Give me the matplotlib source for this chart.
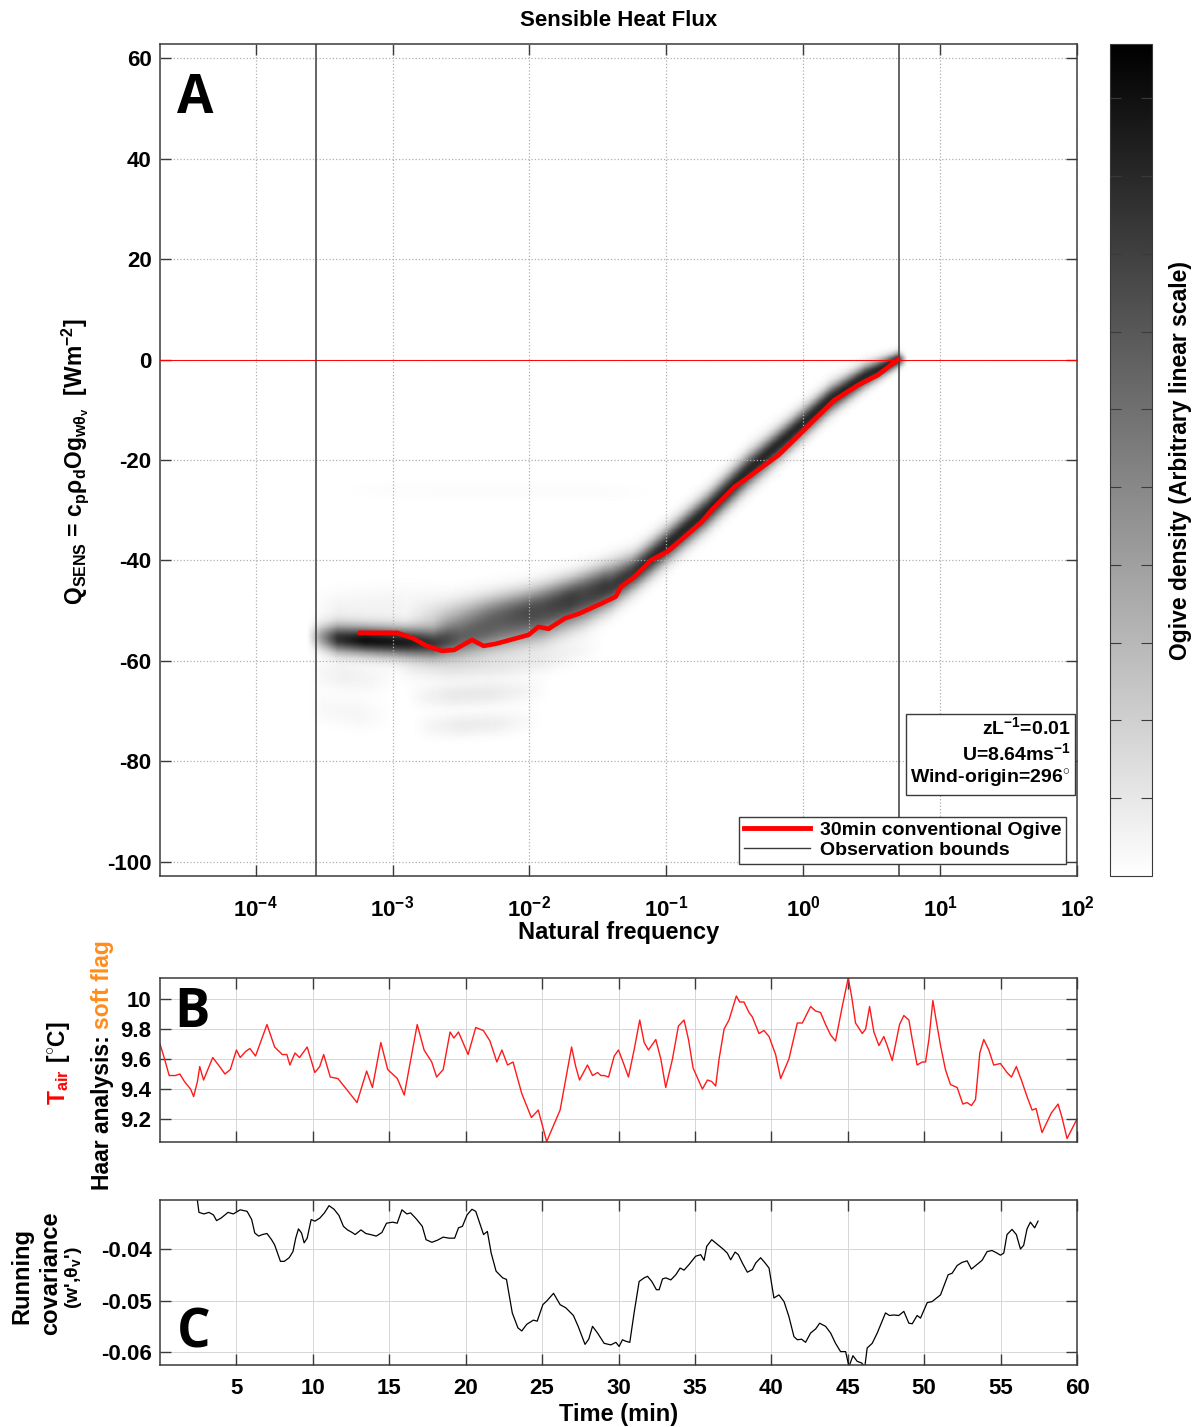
import numpy as np
import matplotlib
matplotlib.use('Agg')
import matplotlib.pyplot as plt
from matplotlib.lines import Line2D

plt.rcParams['font.family'] = ['Liberation Sans', 'DejaVu Sans']
plt.rcParams['font.weight'] = 'bold'
plt.rcParams['axes.unicode_minus'] = False
plt.rcParams['mathtext.fontset'] = 'custom'
plt.rcParams['mathtext.rm'] = 'Liberation Sans:bold'
plt.rcParams['mathtext.bf'] = 'Liberation Sans:bold'
plt.rcParams['mathtext.it'] = 'Liberation Sans:bold'
plt.rcParams['mathtext.sf'] = 'Liberation Sans:bold'
plt.rcParams['mathtext.default'] = 'bf'

# ---------------- data ----------------
# 30 min conventional ogive (log10 frequency, W m-2)
ogive_logf = [-3.235, -2.966, -2.85, -2.75, -2.638, -2.55, -2.42, -2.335, -2.25, -2.18,
              -2.006, -1.935, -1.86, -1.74, -1.64, -1.47, -1.37, -1.33, -1.23, -1.11,
              -0.99, -0.74, -0.67, -0.50, -0.43, -0.18, -0.015, 0.08, 0.226, 0.40, 0.545, 0.69]
ogive_q = [-54.4, -54.4, -55.5, -57.0, -58.0, -57.8, -55.8, -57.0, -56.6, -56.1,
           -54.8, -53.2, -53.6, -51.5, -50.6, -48.5, -47.2, -45.2, -43.2, -39.9,
           -38.2, -32.3, -30.0, -25.3, -24.0, -19.0, -14.6, -12.0, -8.1, -5.1, -3.1, 0.0]

# ogive density ridges: rows of (log10 f, centre Q, spread, weight)
ridge_main = [(-3.62, -55.0, 1.5, 0.0), (-3.52, -55.2, 1.7, 0.4), (-3.40, -55.5, 1.9, 0.85),
              (-3.20, -55.8, 1.9, 1.0), (-2.90, -56.2, 2.0, 0.95), (-2.70, -56.5, 2.1, 0.8),
              (-2.50, -55.5, 2.6, 0.6), (-2.20, -53.5, 3.0, 0.55), (-1.90, -51.5, 3.0, 0.6),
              (-1.60, -48.3, 2.8, 0.65), (-1.40, -45.5, 2.5, 0.75), (-1.20, -41.5, 2.3, 0.85),
              (-1.00, -37.0, 2.2, 0.9), (-0.70, -30.0, 2.2, 0.9), (-0.40, -22.0, 2.2, 0.9),
              (-0.10, -15.0, 2.0, 0.9), (0.20, -7.8, 1.8, 0.9), (0.45, -3.3, 1.5, 0.9),
              (0.69, 0.0, 1.0, 0.9), (0.76, 0.0, 0.6, 0.0)]
ridge_upper = [(-2.90, -52.0, 2.5, 0.0), (-2.60, -51.5, 2.6, 0.22), (-2.30, -50.0, 2.4, 0.33),
               (-2.00, -48.5, 2.3, 0.38), (-1.70, -46.0, 2.2, 0.38), (-1.45, -43.0, 2.0, 0.28),
               (-1.25, -40.0, 2.0, 0.0)]
ridge_haze = [(-3.60, -50.0, 2.5, 0.0), (-3.40, -50.0, 2.5, 0.05), (-3.00, -49.0, 2.5, 0.05),
              (-2.60, -48.0, 2.5, 0.0)]
ridge_low1 = [(-3.62, -62.5, 2.0, 0.0), (-3.50, -62.5, 2.0, 0.04), (-3.35, -63.0, 2.0, 0.06),
              (-3.15, -63.5, 2.0, 0.04), (-2.95, -63.0, 2.0, 0.0)]
ridge_low2 = [(-3.00, -61.5, 1.7, 0.0), (-2.85, -61.5, 1.7, 0.05), (-2.60, -61.5, 1.7, 0.08),
              (-2.20, -61.0, 1.7, 0.08), (-1.90, -59.8, 1.7, 0.07), (-1.65, -58.0, 1.7, 0.04),
              (-1.45, -57.0, 1.7, 0.0)]
ridge_low3 = [(-2.90, -67.0, 1.6, 0.0), (-2.75, -67.0, 1.6, 0.05), (-2.55, -66.8, 1.6, 0.09),
              (-2.30, -66.4, 1.6, 0.09), (-2.05, -66.0, 1.6, 0.05), (-1.85, -65.5, 1.6, 0.0)]
ridge_low4 = [(-2.85, -73.0, 1.5, 0.0), (-2.72, -73.0, 1.5, 0.04), (-2.50, -72.8, 1.5, 0.08),
              (-2.25, -72.4, 1.5, 0.07), (-2.05, -72.0, 1.5, 0.03), (-1.90, -71.5, 1.5, 0.0)]
ridge_low5 = [(-3.62, -69.0, 2.0, 0.0), (-3.50, -69.5, 2.0, 0.03), (-3.25, -70.5, 2.0, 0.04),
              (-3.00, -71.0, 2.0, 0.0)]
ridge_streak = [(-3.40, -26.0, 1.2, 0.0), (-3.00, -26.0, 1.2, 0.015), (-1.50, -26.3, 1.2, 0.015),
                (-1.00, -26.5, 1.2, 0.0)]
ridges = [ridge_main, ridge_upper, ridge_haze, ridge_low1, ridge_low2, ridge_low3,
          ridge_low4, ridge_low5, ridge_streak]

obs_bounds = [1 / 3600, 5.0]

# panel B: air temperature
time_b = [0.0, 0.3, 0.6, 1.0, 1.3, 1.6, 2.0, 2.2, 2.45, 2.6, 2.85, 3.45, 3.9, 4.25, 4.6, 5.0,
          5.25, 5.6, 5.88, 6.25, 7.0, 7.5, 8.0, 8.3, 8.5, 8.83, 9.13, 9.63, 10.13, 10.45, 10.71,
          11.14, 11.64, 12.27, 12.89, 13.52, 13.9, 14.45, 14.9, 15.53, 15.98, 16.83, 17.28,
          17.78, 18.1, 18.53, 18.98, 19.23, 19.53, 20.16, 20.66, 21.16, 21.59, 22.04, 22.37,
          22.74, 23.1, 23.67, 24.3, 24.75, 25.3, 26.18, 26.93, 27.2, 27.45, 27.97, 28.3, 28.63,
          28.85, 29.06, 29.35, 29.72, 30.0, 30.37, 30.65, 31.02, 31.39, 31.68, 31.96, 32.44,
          32.77, 33.09, 33.53, 33.92, 34.29, 34.58, 34.88, 35.23, 35.49, 35.82, 36.1, 36.36,
          36.58, 36.91, 37.23, 37.71, 37.93, 38.21, 38.54, 38.76, 39.19, 39.52, 39.85, 40.28,
          40.61, 41.15, 41.7, 42.03, 42.57, 42.9, 43.22, 43.55, 43.88, 44.2, 44.64, 45.03,
          45.25, 45.51, 45.95, 46.17, 46.43, 46.71, 47.04, 47.36, 47.58, 47.91, 48.39, 48.67,
          49.0, 49.22, 49.54, 49.87, 50.09, 50.31, 50.57, 50.78, 51.07, 51.39, 51.72, 52.16,
          52.53, 52.81, 53.09, 53.36, 53.64, 53.9, 54.23, 54.55, 54.99, 55.42, 55.71, 56.03,
          56.36, 56.73, 57.06, 57.32, 57.71, 58.32, 58.76, 59.02, 59.35, 60.0]
t_air = [9.70, 9.60, 9.49, 9.49, 9.50, 9.45, 9.40, 9.35, 9.45, 9.55, 9.46, 9.61, 9.55, 9.50,
         9.53, 9.66, 9.61, 9.65, 9.67, 9.62, 9.83, 9.68, 9.63, 9.63, 9.56, 9.64, 9.61, 9.68,
         9.51, 9.55, 9.63, 9.48, 9.47, 9.39, 9.31, 9.52, 9.41, 9.71, 9.53, 9.47, 9.36, 9.83,
         9.66, 9.58, 9.48, 9.53, 9.78, 9.74, 9.78, 9.63, 9.81, 9.79, 9.72, 9.58, 9.66, 9.56,
         9.58, 9.37, 9.21, 9.26, 9.05, 9.26, 9.68, 9.55, 9.46, 9.56, 9.49, 9.51, 9.49, 9.49,
         9.48, 9.62, 9.66, 9.56, 9.48, 9.66, 9.86, 9.71, 9.66, 9.73, 9.60, 9.41, 9.60, 9.82,
         9.86, 9.73, 9.54, 9.46, 9.40, 9.46, 9.45, 9.42, 9.60, 9.80, 9.86, 10.02, 9.98, 9.98,
         9.91, 9.88, 9.77, 9.79, 9.75, 9.63, 9.47, 9.60, 9.84, 9.84, 9.95, 9.92, 9.91, 9.83,
         9.76, 9.72, 9.95, 10.14, 10.02, 9.84, 9.77, 9.80, 9.95, 9.78, 9.69, 9.75, 9.69, 9.59,
         9.83, 9.89, 9.86, 9.73, 9.56, 9.58, 9.58, 9.73, 9.99, 9.86, 9.69, 9.53, 9.43, 9.41,
         9.30, 9.31, 9.29, 9.33, 9.64, 9.73, 9.66, 9.56, 9.57, 9.51, 9.48, 9.55, 9.46, 9.35,
         9.26, 9.27, 9.11, 9.24, 9.30, 9.21, 9.07, 9.20]

# panel C: running covariance
time_c = [2.42, 2.55, 2.87, 3.2, 3.5, 3.7, 4.0, 4.45, 4.8, 5.25, 5.7, 6.0, 6.2, 6.45, 6.7, 7.0,
          7.3, 7.5, 7.88, 8.13, 8.45, 8.7, 8.88, 9.06, 9.26, 9.43, 9.63, 9.89, 10.14, 10.46,
          10.76, 11.06, 11.39, 11.71, 12.0, 12.27, 12.57, 12.77, 13.15, 13.47, 13.77, 14.15,
          14.52, 14.82, 15.22, 15.52, 15.83, 16.15, 16.4, 16.78, 17.16, 17.41, 17.79, 18.15,
          18.53, 18.91, 19.28, 19.53, 19.79, 20.09, 20.41, 20.66, 20.92, 21.17, 21.42, 21.67,
          21.99, 22.42, 22.67, 23.05, 23.42, 23.67, 24.0, 24.43, 24.68, 25.05, 25.3, 25.75,
          26.18, 26.55, 27.05, 27.36, 27.81, 28.05, 28.3, 28.63, 29.06, 29.5, 29.83, 30.04,
          30.26, 30.48, 30.74, 31.02, 31.35, 31.68, 31.9, 32.18, 32.48, 32.66, 32.88, 33.1,
          33.42, 33.75, 34.03, 34.29, 34.62, 35.05, 35.38, 35.6, 35.77, 36.1, 36.47, 36.84,
          37.12, 37.34, 37.63, 37.84, 38.1, 38.43, 38.76, 38.98, 39.3, 39.59, 39.85, 40.17,
          40.5, 40.83, 41.15, 41.48, 41.7, 41.98, 42.24, 42.57, 42.9, 43.16, 43.55, 43.88,
          44.2, 44.53, 44.86, 45.08, 45.34, 45.62, 45.9, 46.12, 46.27, 46.6, 46.93, 47.15,
          47.47, 47.73, 48.02, 48.34, 48.67, 49.0, 49.22, 49.54, 49.76, 50.2, 50.52, 51.07,
          51.57, 51.83, 52.16, 52.48, 52.81, 53.09, 53.46, 53.79, 54.12, 54.44, 54.77, 54.99,
          55.21, 55.42, 55.75, 56.03, 56.3, 56.51, 56.73, 56.95, 57.23, 57.45]
cov_wt = [-0.0300, -0.0329, -0.0332, -0.0329, -0.0334, -0.0345, -0.0340, -0.0329, -0.0332,
          -0.0324, -0.0327, -0.0343, -0.0369, -0.0375, -0.0372, -0.0370, -0.0382, -0.0392,
          -0.0424, -0.0424, -0.0417, -0.0405, -0.0379, -0.0361, -0.0369, -0.0388, -0.0379,
          -0.0343, -0.0346, -0.0340, -0.0330, -0.0316, -0.0323, -0.0335, -0.0356, -0.0363,
          -0.0368, -0.0372, -0.0363, -0.0370, -0.0372, -0.0375, -0.0368, -0.0350, -0.0348,
          -0.0350, -0.0324, -0.0332, -0.0330, -0.0342, -0.0356, -0.0382, -0.0387, -0.0383,
          -0.0377, -0.0379, -0.0379, -0.0359, -0.0356, -0.0334, -0.0323, -0.0327, -0.0350,
          -0.0372, -0.0366, -0.0408, -0.0443, -0.0456, -0.0459, -0.0524, -0.0553, -0.0559,
          -0.0546, -0.0538, -0.0540, -0.0508, -0.0501, -0.0486, -0.0508, -0.0514, -0.0529,
          -0.0550, -0.0585, -0.0575, -0.0550, -0.0563, -0.0583, -0.0586, -0.0581, -0.0589,
          -0.0576, -0.0579, -0.0581, -0.0524, -0.0463, -0.0456, -0.0453, -0.0463, -0.0479,
          -0.0479, -0.0458, -0.0456, -0.0460, -0.0450, -0.0437, -0.0441, -0.0430, -0.0414,
          -0.0411, -0.0422, -0.0395, -0.0382, -0.0391, -0.0400, -0.0408, -0.0421, -0.0406,
          -0.0411, -0.0427, -0.0445, -0.0440, -0.0427, -0.0417, -0.0427, -0.0437, -0.0495,
          -0.0489, -0.0502, -0.0531, -0.0570, -0.0576, -0.0575, -0.0581, -0.0563, -0.0555,
          -0.0544, -0.0550, -0.0563, -0.0583, -0.0599, -0.0599, -0.0628, -0.0607, -0.0618,
          -0.0621, -0.0628, -0.0592, -0.0583, -0.0563, -0.0547, -0.0524, -0.0529, -0.0528,
          -0.0529, -0.0521, -0.0544, -0.0545, -0.0529, -0.0534, -0.0504, -0.0502, -0.0489,
          -0.0450, -0.0447, -0.0432, -0.0426, -0.0423, -0.0439, -0.0430, -0.0422, -0.0405,
          -0.0403, -0.0408, -0.0412, -0.0408, -0.0372, -0.0362, -0.0372, -0.0400, -0.0393,
          -0.0361, -0.0348, -0.0359, -0.0346]

W, H = 1199, 1427
SPINE = '#3a3a3a'


def fx(px):
    return px / W


def fy(py):
    return 1 - py / H


def style_axes(ax):
    for s in ax.spines.values():
        s.set_color(SPINE)
        s.set_linewidth(1.1)
    ax.tick_params(which='both', direction='in', top=True, right=True, length=8,
                   width=1.0, color=SPINE, labelsize=16)
    ax.minorticks_off()


fig = plt.figure(figsize=(W / 100, H / 100), dpi=100)

# ---------------- panel A ----------------
axA = fig.add_axes([fx(160), fy(876), fx(1077) - fx(160), fy(44) - fy(876)])
lf = np.linspace(np.log10(2e-5), 2, 800)
qq = np.linspace(-103, 63, 700)
QQ = np.meshgrid(lf, qq)[1]
dens = np.zeros_like(QQ)
for ridge in ridges:
    r = np.array(ridge)
    centre = np.interp(lf, r[:, 0], r[:, 1])
    spread = np.interp(lf, r[:, 0], r[:, 2])
    weight = np.interp(lf, r[:, 0], r[:, 3], left=0, right=0)
    dens += weight * np.exp(-0.5 * ((QQ - centre) / spread) ** 2)
dens = np.clip(dens, 0, 1.07)
mesh = axA.pcolormesh(10 ** lf, qq, dens, cmap='gray_r', vmin=0, vmax=1.07,
                      shading='gouraud', rasterized=True)
axA.set_xscale('log')
axA.set_xlim(2e-5, 100)
axA.set_ylim(-102.8, 62.8)
axA.axhline(0, color='red', lw=0.7, zorder=3)
for b in obs_bounds:
    axA.axvline(b, color='#3a3a3a', lw=1.1, zorder=3)
axA.plot(10 ** np.array(ogive_logf), ogive_q, color='red', lw=3.3, zorder=4)
axA.set_xticks([1e-4, 1e-3, 1e-2, 1e-1, 1, 10, 100])
axA.set_xticklabels([r'10$^{-4}$', r'10$^{-3}$', r'10$^{-2}$', r'10$^{-1}$',
                     r'10$^{0}$', r'10$^{1}$', r'10$^{2}$'])
axA.set_yticks(np.arange(-100, 61, 20))
style_axes(axA)
axA.tick_params(axis='x', pad=14)
axA.tick_params(axis='y', pad=6)
axA.grid(True, ls=':', color='#b0b0b0', lw=0.9)
axA.set_axisbelow(False)
axA.set_title('Sensible Heat Flux', fontsize=16, fontweight='bold', pad=13)
axA.set_xlabel('Natural frequency', fontsize=17, fontweight='bold')
axA.xaxis.set_label_coords(0.5, -0.054)

axA.text(0.993, 0.103, r'zL$^{-1}$=0.01' + '\n' + r'U=8.64ms$^{-1}$' + '\n' +
         r'Wind-origin=296$^{\circ}$', transform=axA.transAxes, ha='right', va='bottom',
         multialignment='right', fontsize=14, fontweight='bold', linespacing=1.25,
         bbox=dict(boxstyle='square,pad=0.22', fc='white', ec='#3a3a3a', lw=1.0), zorder=6)
handles = [Line2D([], [], color='red', lw=3.5), Line2D([], [], color='#3a3a3a', lw=1.0)]
leg = axA.legend(handles, ['30min conventional Ogive', 'Observation bounds'],
                 loc='lower right', bbox_to_anchor=(0.988, 0.0144), borderaxespad=0,
                 fancybox=False, framealpha=1, edgecolor='#3a3a3a', handlelength=3.4,
                 prop={'size': 14, 'weight': 'bold'}, labelspacing=0.12,
                 borderpad=0.25, handletextpad=0.5)
leg.get_frame().set_linewidth(1.0)
leg.set_zorder(6)

# colorbar
cax = fig.add_axes([fx(1110), fy(876), fx(1152) - fx(1110), fy(44) - fy(876)])
cb = fig.colorbar(mesh, cax=cax, ticks=np.arange(0.1, 1.01, 0.1))
cb.outline.set_edgecolor(SPINE)
cax.set_yticklabels([])
cax.tick_params(direction='in', left=True, right=True, length=8, color=SPINE)
fig.text(fx(1180), fy(461), 'Ogive density (Arbitrary linear scale)', rotation=90,
         ha='center', va='center', fontsize=16.5, fontweight='bold')

fig.text(fx(75), fy(462),
         r'Q$_{SENS}$ = c$_p\rho_d$Og$_{w\theta_v}$  [Wm$^{-2}$]',
         rotation=90, ha='center', va='center', fontsize=16.5, fontweight='bold')

# ---------------- panel B ----------------
axB = fig.add_axes([fx(160), fy(1142), fx(1077) - fx(160), fy(978) - fy(1142)])
axB.plot(time_b, t_air, color='#ff1a1a', lw=1.0)
axB.set_xlim(0, 60)
axB.set_ylim(9.047, 10.14)
axB.set_xticks(np.arange(5, 61, 5))
axB.set_yticks([9.2, 9.4, 9.6, 9.8, 10.0])
axB.set_yticklabels(['9.2', '9.4', '9.6', '9.8', '10'])
style_axes(axB)
axB.tick_params(labelbottom=False)
axB.tick_params(axis='y', pad=6)
axB.grid(True, color='#d6d6d6', lw=0.7)

# ---------------- panel C ----------------
axC = fig.add_axes([fx(160), fy(1365), fx(1077) - fx(160), fy(1200) - fy(1365)])
axC.plot(time_c, cov_wt, color='black', lw=0.9)
axC.set_xlim(0, 60)
axC.set_ylim(-0.0625, -0.0305)
axC.set_xticks(np.arange(5, 61, 5))
axC.set_yticks([-0.06, -0.05, -0.04])
axC.set_yticklabels(['-0.06', '-0.05', '-0.04'])
style_axes(axC)
axC.tick_params(axis='x', pad=9)
axC.tick_params(axis='y', pad=6)
axC.grid(True, color='#d6d6d6', lw=0.7)
axC.set_xlabel('Time (min)', fontsize=17, fontweight='bold', labelpad=3)

# panel letters
for letter, (px, py) in zip('ABC', [(195, 99), (192, 1013), (194, 1334)]):
    fig.text(fx(px), fy(py), letter, family='Open Sans', fontweight='bold', fontsize=38,
             ha='center', va='center')

# panel B y label, in coloured pieces
fig.canvas.draw()
renderer = fig.canvas.get_renderer()
inv = fig.transFigure.inverted()


def label_pieces(x_base, y_start, pieces, size):
    y = y_start
    for txt, col in pieces:
        t = fig.text(x_base, y, txt, rotation=90, rotation_mode='anchor', ha='left',
                     va='baseline', color=col, fontsize=size, fontweight='bold')
        bb = t.get_window_extent(renderer)
        y = inv.transform((0, bb.y1))[1]


label_pieces(fx(65), fy(1105), [(r'T$_{air}$', 'red'), (r' [$^{\circ}$C]', 'black')], 16.5)
label_pieces(fx(109), fy(1190), [('Haar analysis: ', 'black'), ('soft flag', '#ff8c1a')], 16.5)

# panel C y label
fig.text(fx(22), fy(1276), 'Running', rotation=90, ha='center', va='center',
         fontsize=17, fontweight='bold')
fig.text(fx(51), fy(1273), 'covariance', rotation=90, ha='center', va='center',
         fontsize=17, fontweight='bold')
fig.text(fx(74), fy(1278), r"(w',$\theta_v$')", rotation=90, ha='center', va='center',
         fontsize=14, fontweight='bold')

fig.savefig('out.png', dpi=100)
